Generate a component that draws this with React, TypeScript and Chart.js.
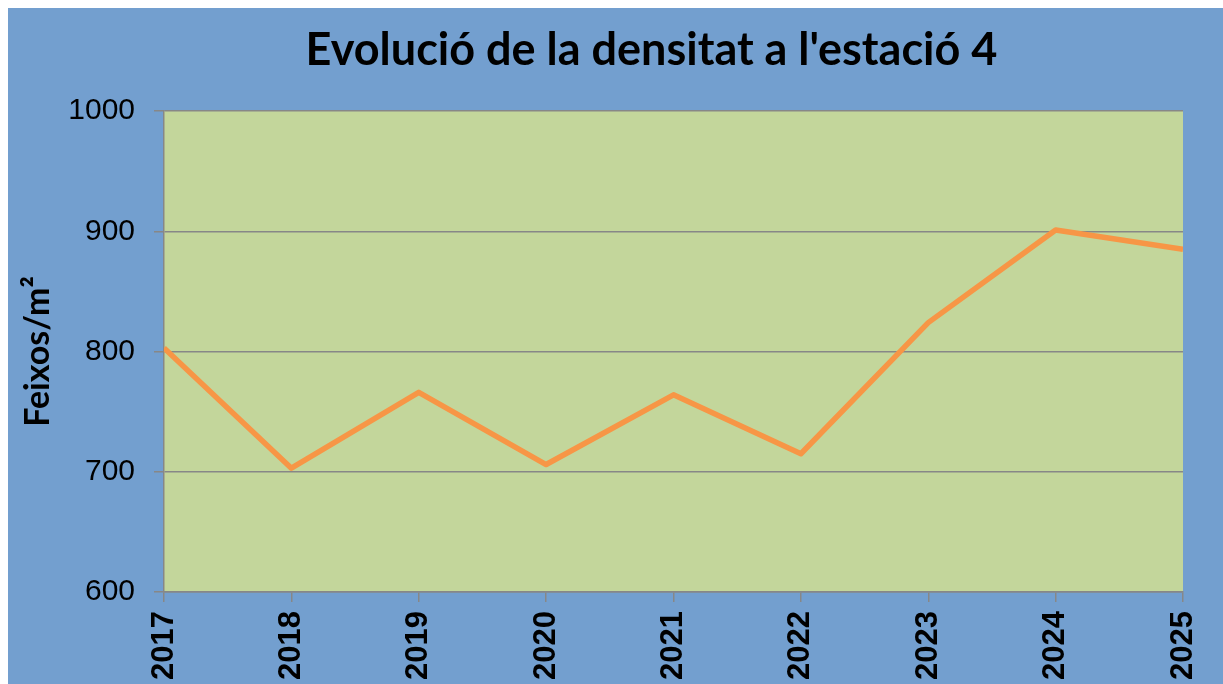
import React, { useEffect, useRef } from 'react';
import { Chart, registerables } from 'chart.js';

Chart.register(...registerables);

const years = ['2017', '2018', '2019', '2020', '2021', '2022', '2023', '2024', '2025'];
const density = [803, 703, 766, 706, 764, 715, 824, 901, 885];
const yMin = 600;
const yMax = 1000;
const yStep = 100;
const chartTitle = "Evolució de la densitat a l'estació 4";
const yAxisTitle = 'Feixos/m²';

const BLUE = '#739FCF';
const PLOT_GREEN = '#C3D69B';
const ORANGE = '#F79646';
const GRID = '#878787';

const plotBackground = {
  id: 'plotBackground',
  beforeDraw(chart: any) {
    const { ctx, chartArea } = chart;
    ctx.save();
    ctx.fillStyle = PLOT_GREEN;
    ctx.fillRect(chartArea.left, chartArea.top, chartArea.right - chartArea.left, chartArea.bottom - chartArea.top);
    ctx.restore();
  },
};

const titleDraw = {
  id: 'titleDraw',
  afterDraw(chart: any) {
    const { ctx, chartArea } = chart;
    ctx.save();
    ctx.font = 'bold 45px Lato';
    ctx.fillStyle = '#000000';
    ctx.textAlign = 'center';
    ctx.textBaseline = 'alphabetic';
    const cx = (chartArea.left + chartArea.right) / 2 - 22;
    ctx.fillText(chartTitle, cx, 57);
    ctx.restore();
  },
};

export default function App() {
  const canvasRef = useRef<HTMLCanvasElement | null>(null);

  useEffect(() => {
    if (!canvasRef.current) return;
    const chart = new Chart(canvasRef.current, {
      type: 'line',
      data: {
        labels: years,
        datasets: [
          {
            data: density,
            borderColor: ORANGE,
            backgroundColor: ORANGE,
            borderWidth: 5.5,
            pointRadius: 0,
            pointHoverRadius: 0,
            tension: 0,
            borderJoinStyle: 'round',
            borderCapStyle: 'butt',
            clip: 0,
            fill: false,
          },
        ],
      },
      options: {
        responsive: false,
        animation: false,
        layout: { padding: { top: 103, right: 40, left: 0, bottom: 0 } },
        plugins: {
          legend: { display: false },
          title: { display: false },
          tooltip: { enabled: false },
        },
        scales: {
          x: {
            type: 'category',
            offset: false,
            afterFit(scale: any) {
              scale.height = 136;
              scale.paddingRight = 0;
              scale.paddingLeft = 0;
            },
            grid: {
              display: true,
              drawOnChartArea: false,
              drawTicks: true,
              tickLength: 10,
              color: GRID,
              lineWidth: 1.5,
            },
            border: { display: true, color: GRID, width: 1.5 },
            ticks: {
              autoSkip: false,
              maxRotation: 90,
              minRotation: 90,
              padding: 9,
              color: '#000000',
              font: { family: 'Liberation Sans', size: 31, weight: 'bold' },
            },
          },
          y: {
            min: yMin,
            max: yMax,
            afterFit(scale: any) {
              scale.width = 156;
            },
            ticks: {
              stepSize: yStep,
              padding: 19,
              color: '#000000',
              font: { family: 'Liberation Sans', size: 30 },
              callback: (value: any) => String(value),
            },
            grid: {
              color: GRID,
              lineWidth: 1.5,
              drawTicks: true,
              tickLength: 10,
            },
            border: { display: true, color: GRID, width: 1.5 },
            title: {
              display: true,
              text: yAxisTitle,
              color: '#000000',
              font: { family: 'Lato', size: 34, weight: 'bold' },
              padding: { top: 10, bottom: 0 },
            },
          },
        },
      },
      plugins: [plotBackground, titleDraw],
    });
    return () => chart.destroy();
  }, []);

  return (
    <div
      style={{
        position: 'absolute',
        left: 8,
        top: 8,
        width: 1215,
        height: 676,
        overflow: 'hidden',
        background: BLUE,
      }}
    >
      <canvas ref={canvasRef} width={1215} height={720} style={{ display: 'block' }} />
    </div>
  );
}
